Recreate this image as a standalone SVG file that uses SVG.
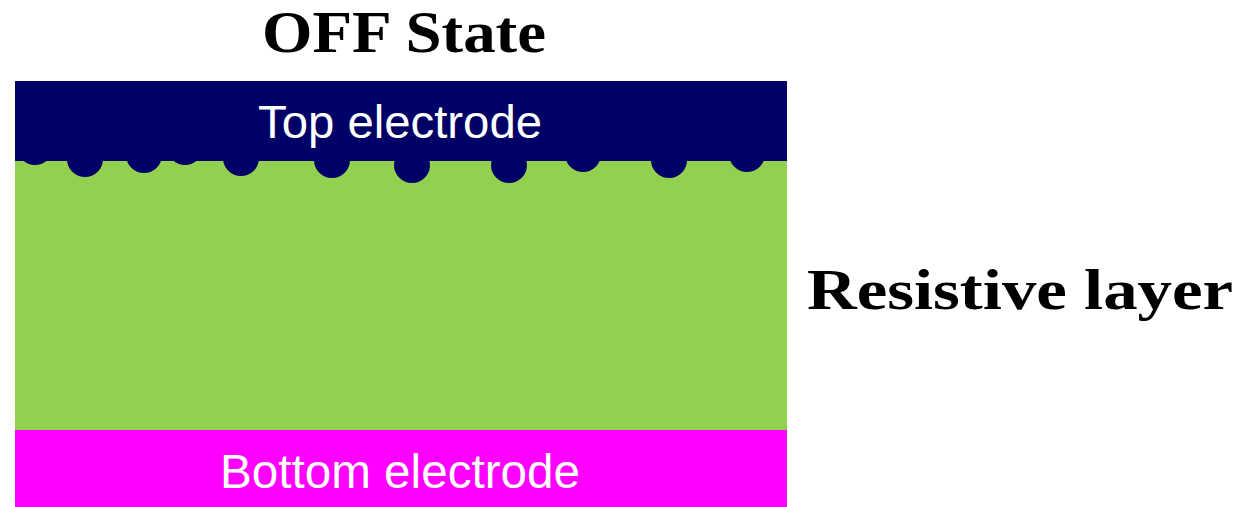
<svg xmlns="http://www.w3.org/2000/svg" width="1246" height="507" viewBox="0 0 1246 507">
  <style>
    .label { font-family: "Liberation Sans", Arial, sans-serif; fill: #ffffff; text-anchor: middle; }
    .title { font-family: "Liberation Serif", "Times New Roman", serif; font-weight: bold; fill: #000000; }
    .ion { fill: #000066; }
  </style>
  <rect width="1246" height="507" fill="#ffffff"/>

  <!-- resistive switching layer -->
  <g id="resistive-layer">
    <rect x="15" y="160" width="772" height="271" fill="#92d050"/>
  </g>

  <!-- top electrode with metal protrusions into the layer -->
  <g id="top-electrode">
    <rect x="15" y="81" width="772" height="80" fill="#000066"/>
    <circle class="ion" cx="35" cy="147" r="18"/>
    <circle class="ion" cx="85" cy="159" r="18"/>
    <circle class="ion" cx="144" cy="155" r="18"/>
    <circle class="ion" cx="185" cy="147" r="18"/>
    <circle class="ion" cx="241" cy="158" r="18"/>
    <circle class="ion" cx="332" cy="160" r="18"/>
    <circle class="ion" cx="412" cy="165" r="18"/>
    <circle class="ion" cx="509" cy="165" r="18"/>
    <circle class="ion" cx="583" cy="154" r="18"/>
    <circle class="ion" cx="669" cy="160" r="18"/>
    <circle class="ion" cx="747" cy="154" r="18"/>
    <text class="label" x="400" y="138" font-size="47" textLength="284" lengthAdjust="spacingAndGlyphs">Top electrode</text>
  </g>

  <!-- bottom electrode -->
  <g id="bottom-electrode">
    <rect x="15" y="430" width="772" height="77" fill="#ff00ff"/>
    <text class="label" x="400" y="488" font-size="48" textLength="360" lengthAdjust="spacingAndGlyphs">Bottom electrode</text>
  </g>

  <g id="titles">
    <text class="title" x="262" y="52" font-size="59" textLength="284" lengthAdjust="spacingAndGlyphs">OFF State</text>
    <text class="title" x="807" y="309" font-size="58" textLength="426" lengthAdjust="spacingAndGlyphs">Resistive layer</text>
  </g>
</svg>
